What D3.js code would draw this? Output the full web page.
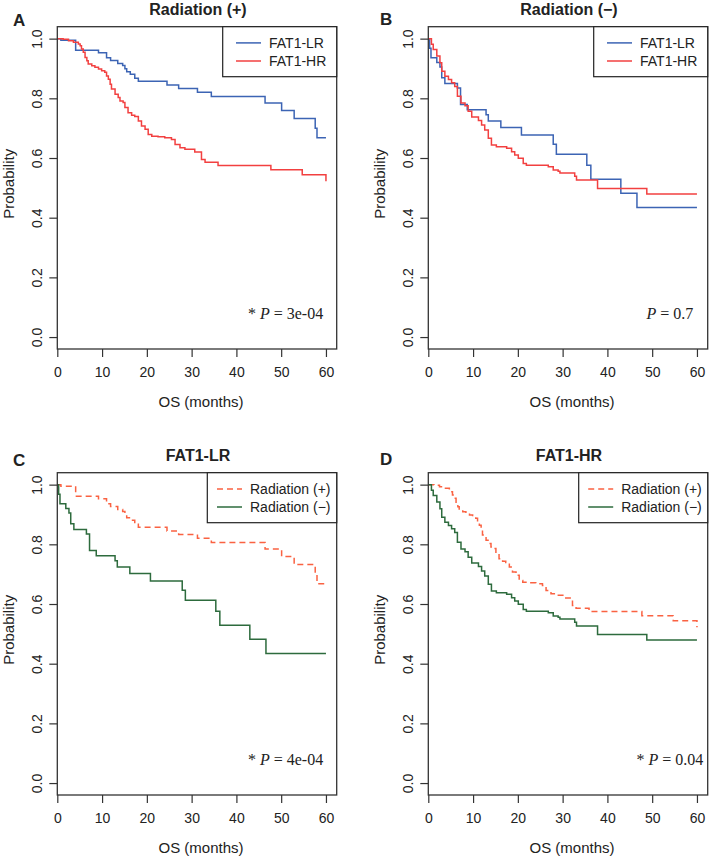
<!DOCTYPE html>
<html>
<head>
<meta charset="utf-8">
<script src="https://cdn.jsdelivr.net/npm/d3@7"></script>
<style>
  body { margin: 0; background: #fff; }
  svg { display: block; font-family: "Liberation Sans", Arial, sans-serif; }
</style>
</head>
<body>
<svg id="chart" width="709" height="858"></svg>
<script>
// ---- data ----
const xTicks = [0, 10, 20, 30, 40, 50, 60];
const yTicks = [0, 0.2, 0.4, 0.6, 0.8, 1.0];

// Radiation (+), FAT1-LR
const lrRadPosTime = [0, 0.8, 4.1, 9.2, 11.0, 11.9, 13.5, 14.6, 15.1, 15.5, 16.3, 17.3, 18.1, 24.5, 27.1, 31.3, 34.4, 46.4, 50.1, 52.9, 57.6, 58.0, 60];
const lrRadPosSurv = [1, 0.995, 0.961, 0.953, 0.936, 0.927, 0.917, 0.910, 0.899, 0.889, 0.881, 0.867, 0.857, 0.845, 0.833, 0.820, 0.806, 0.784, 0.759, 0.732, 0.700, 0.668, 0.668];

// Radiation (+), FAT1-HR
const hrRadPosTime = [0, 1.3, 2.5, 3.6, 4.7, 5.1, 5.4, 5.8, 6.2, 6.6, 6.9, 7.7, 8.4, 9.2, 9.9, 10.6, 11.0, 11.4, 11.8, 12.1, 12.9, 13.6, 14.0, 14.7, 15.1, 15.8, 16.6, 17.3, 18.1, 18.8, 19.6, 20.3, 21.1, 22.5, 24.0, 25.5, 26.3, 27.4, 28.5, 30.7, 32.2, 33.0, 35.9, 47.7, 54.7, 60];
const hrRadPosSurv = [1, 0.998, 0.993, 0.988, 0.982, 0.976, 0.965, 0.954, 0.937, 0.926, 0.915, 0.909, 0.904, 0.898, 0.892, 0.887, 0.875, 0.864, 0.847, 0.831, 0.814, 0.803, 0.791, 0.786, 0.769, 0.752, 0.743, 0.739, 0.724, 0.707, 0.696, 0.679, 0.673, 0.671, 0.668, 0.662, 0.645, 0.634, 0.629, 0.620, 0.595, 0.586, 0.575, 0.561, 0.544, 0.522];

// Radiation (-), FAT1-LR
const lrRadNegTime = [0, 0.3, 0.6, 1.9, 2.6, 3.0, 3.7, 6.5, 7.2, 8.7, 12.9, 13.4, 16.2, 20.8, 27.9, 28.6, 35.4, 36.3, 43.0, 46.6, 60];
const lrRadNegSurv = [1, 0.968, 0.936, 0.920, 0.905, 0.869, 0.850, 0.835, 0.779, 0.762, 0.745, 0.724, 0.702, 0.677, 0.646, 0.613, 0.576, 0.529, 0.482, 0.434, 0.434];

// Radiation (-), FAT1-HR
const hrRadNegTime = [0, 0.7, 1.1, 1.9, 2.6, 3.0, 3.7, 4.5, 5.2, 5.9, 6.5, 7.3, 8.2, 8.9, 9.7, 11.2, 11.9, 12.6, 13.4, 14.1, 15.2, 17.5, 18.6, 19.3, 20.1, 21.2, 21.9, 26.8, 27.9, 29.0, 29.4, 32.7, 33.1, 37.8, 48.8, 60];
const hrRadNegSurv = [1, 0.981, 0.964, 0.942, 0.919, 0.891, 0.874, 0.863, 0.852, 0.840, 0.807, 0.784, 0.775, 0.757, 0.737, 0.726, 0.711, 0.694, 0.666, 0.644, 0.638, 0.633, 0.621, 0.610, 0.599, 0.582, 0.576, 0.571, 0.560, 0.556, 0.550, 0.539, 0.526, 0.498, 0.479, 0.479];

const panelLetters = ["A", "B", "C", "D"];
const panelTitles = ["Radiation (+)", "Radiation (\u2212)", "FAT1-LR", "FAT1-HR"];
const riskLabels = ["FAT1-LR", "FAT1-HR"];
const radLabels = ["Radiation (+)", "Radiation (\u2212)"];
const pValues = ["3e-04", "0.7", "4e-04", "0.04"];
const pStars = [true, false, true, true];

// ---- layout ----
const blue = "#3c64b4", red = "#f24040", orange = "#fa6242", green = "#2d6b3d";
const axisCol = "#333";
const plotW = 279.4, plotH = 322.3;

const x = d3.scaleLinear().domain([0, 62.4]).range([0, plotW]);
const y = d3.scaleLinear().domain([-0.04, 1.04]).range([plotH, 0]);

const panels = [
  { left: 57.3, top: 26.7, lx: 13, ly: 25.7, legendW: 114, legendPad: 13.3, pRight: plotW - 13.5,
    labels: riskLabels,
    series: [
      { time: lrRadPosTime, surv: lrRadPosSurv, color: blue, dash: null },
      { time: hrRadPosTime, surv: hrRadPosSurv, color: red, dash: null }
    ] },
  { left: 428.3, top: 26.7, lx: 380, ly: 25, legendW: 114, legendPad: 13.3, pRight: plotW - 14.5,
    labels: riskLabels,
    series: [
      { time: lrRadNegTime, surv: lrRadNegSurv, color: blue, dash: null },
      { time: hrRadNegTime, surv: hrRadNegSurv, color: red, dash: null }
    ] },
  { left: 57.3, top: 472.7, lx: 13, ly: 466, legendW: 129.4, legendPad: 9.7, pRight: plotW - 13.5,
    labels: radLabels,
    series: [
      { time: lrRadPosTime, surv: lrRadPosSurv, color: orange, dash: "6,4" },
      { time: lrRadNegTime, surv: lrRadNegSurv, color: green, dash: null }
    ] },
  { left: 428.3, top: 472.7, lx: 380, ly: 465, legendW: 129, legendPad: 9.5, pRight: plotW - 4.5,
    labels: radLabels,
    series: [
      { time: hrRadPosTime, surv: hrRadPosSurv, color: orange, dash: "6,4" },
      { time: hrRadNegTime, surv: hrRadNegSurv, color: green, dash: null }
    ] }
];

const svg = d3.select("#chart");
svg.append("rect").attr("width", 709).attr("height", 858).attr("fill", "#fff");

const line = d3.line()
  .x(d => x(d[0]))
  .y(d => y(d[1]))
  .curve(d3.curveStepAfter);

panels.forEach(function(p, i) {
  // panel letter
  svg.append("text")
    .attr("x", p.lx).attr("y", p.ly)
    .attr("font-size", 17).attr("font-weight", "bold").attr("fill", "#222")
    .text(panelLetters[i]);

  const g = svg.append("g").attr("transform", "translate(" + p.left + "," + p.top + ")");

  // title
  g.append("text")
    .attr("x", plotW / 2 + 1).attr("y", -12)
    .attr("text-anchor", "middle")
    .attr("font-size", 16).attr("font-weight", "bold").attr("fill", "#222")
    .text(panelTitles[i]);

  // curves
  p.series.forEach(function(s) {
    g.append("path")
      .datum(d3.zip(s.time, s.surv))
      .attr("d", line)
      .attr("fill", "none")
      .attr("stroke", s.color)
      .attr("stroke-width", 1.5)
      .attr("stroke-dasharray", s.dash);
  });

  // x axis
  const xa = g.append("g")
    .attr("transform", "translate(0," + plotH + ")")
    .call(d3.axisBottom(x).tickValues(xTicks).tickSize(8).tickSizeOuter(0));
  xa.select(".domain").remove();
  xa.selectAll("line").attr("stroke", axisCol).attr("stroke-width", 1.2);
  xa.selectAll("text")
    .attr("y", 28.3).attr("dy", null)
    .attr("font-size", 14).attr("fill", "#222")
    .attr("font-family", "Liberation Sans, Arial, sans-serif");

  // y axis
  const ya = g.append("g")
    .call(d3.axisLeft(y).tickValues(yTicks).tickSize(8).tickFormat(d3.format(".1f")));
  ya.select(".domain").remove();
  ya.selectAll("line").attr("stroke", axisCol).attr("stroke-width", 1.2);
  ya.selectAll("text")
    .attr("x", null).attr("dy", null)
    .attr("text-anchor", "middle")
    .attr("transform", "translate(-15.6,0) rotate(-90)")
    .attr("font-size", 14).attr("fill", "#222")
    .attr("font-family", "Liberation Sans, Arial, sans-serif");

  // box
  g.append("rect")
    .attr("width", plotW).attr("height", plotH)
    .attr("fill", "none").attr("stroke", axisCol).attr("stroke-width", 1.3);

  // axis titles
  g.append("text")
    .attr("x", plotW / 2 + 4).attr("y", plotH + 58.3)
    .attr("text-anchor", "middle").attr("font-size", 15).attr("fill", "#222")
    .text("OS (months)");
  g.append("text")
    .attr("transform", "translate(" + (13.5 - p.left + (p.left > 100 ? p.left - 57.3 + 0 : 0)) + "," + (plotH / 2 - 4) + ") rotate(-90)")
    .attr("text-anchor", "middle").attr("font-size", 15).attr("fill", "#222")
    .text("Probability");

  // legend
  const lg = g.append("g").attr("transform", "translate(" + (plotW - p.legendW) + ",0)");
  lg.append("rect")
    .attr("width", p.legendW).attr("height", 50)
    .attr("fill", "#fff").attr("stroke", "#222").attr("stroke-width", 1.2);
  p.series.forEach(function(s, k) {
    const ry = 16.2 + k * 18.1;
    lg.append("line")
      .attr("x1", p.legendPad).attr("x2", p.legendPad + 25)
      .attr("y1", ry).attr("y2", ry)
      .attr("stroke", s.color).attr("stroke-width", 1.5)
      .attr("stroke-dasharray", s.dash);
    lg.append("text")
      .attr("x", p.legendPad + 33).attr("y", ry).attr("dy", "0.36em")
      .attr("font-size", 14).attr("fill", "#222")
      .text(p.labels[k]);
  });

  // p value
  const pt = g.append("text")
    .attr("x", p.pRight).attr("y", 292.3)
    .attr("text-anchor", "end")
    .attr("font-family", "Liberation Serif, Times New Roman, serif")
    .attr("font-size", 16).attr("fill", "#222");
  if (pStars[i]) pt.append("tspan").text("* ");
  pt.append("tspan").attr("font-style", "italic").text("P");
  pt.append("tspan").text(" = " + pValues[i]);
});
</script>
</body>
</html>
